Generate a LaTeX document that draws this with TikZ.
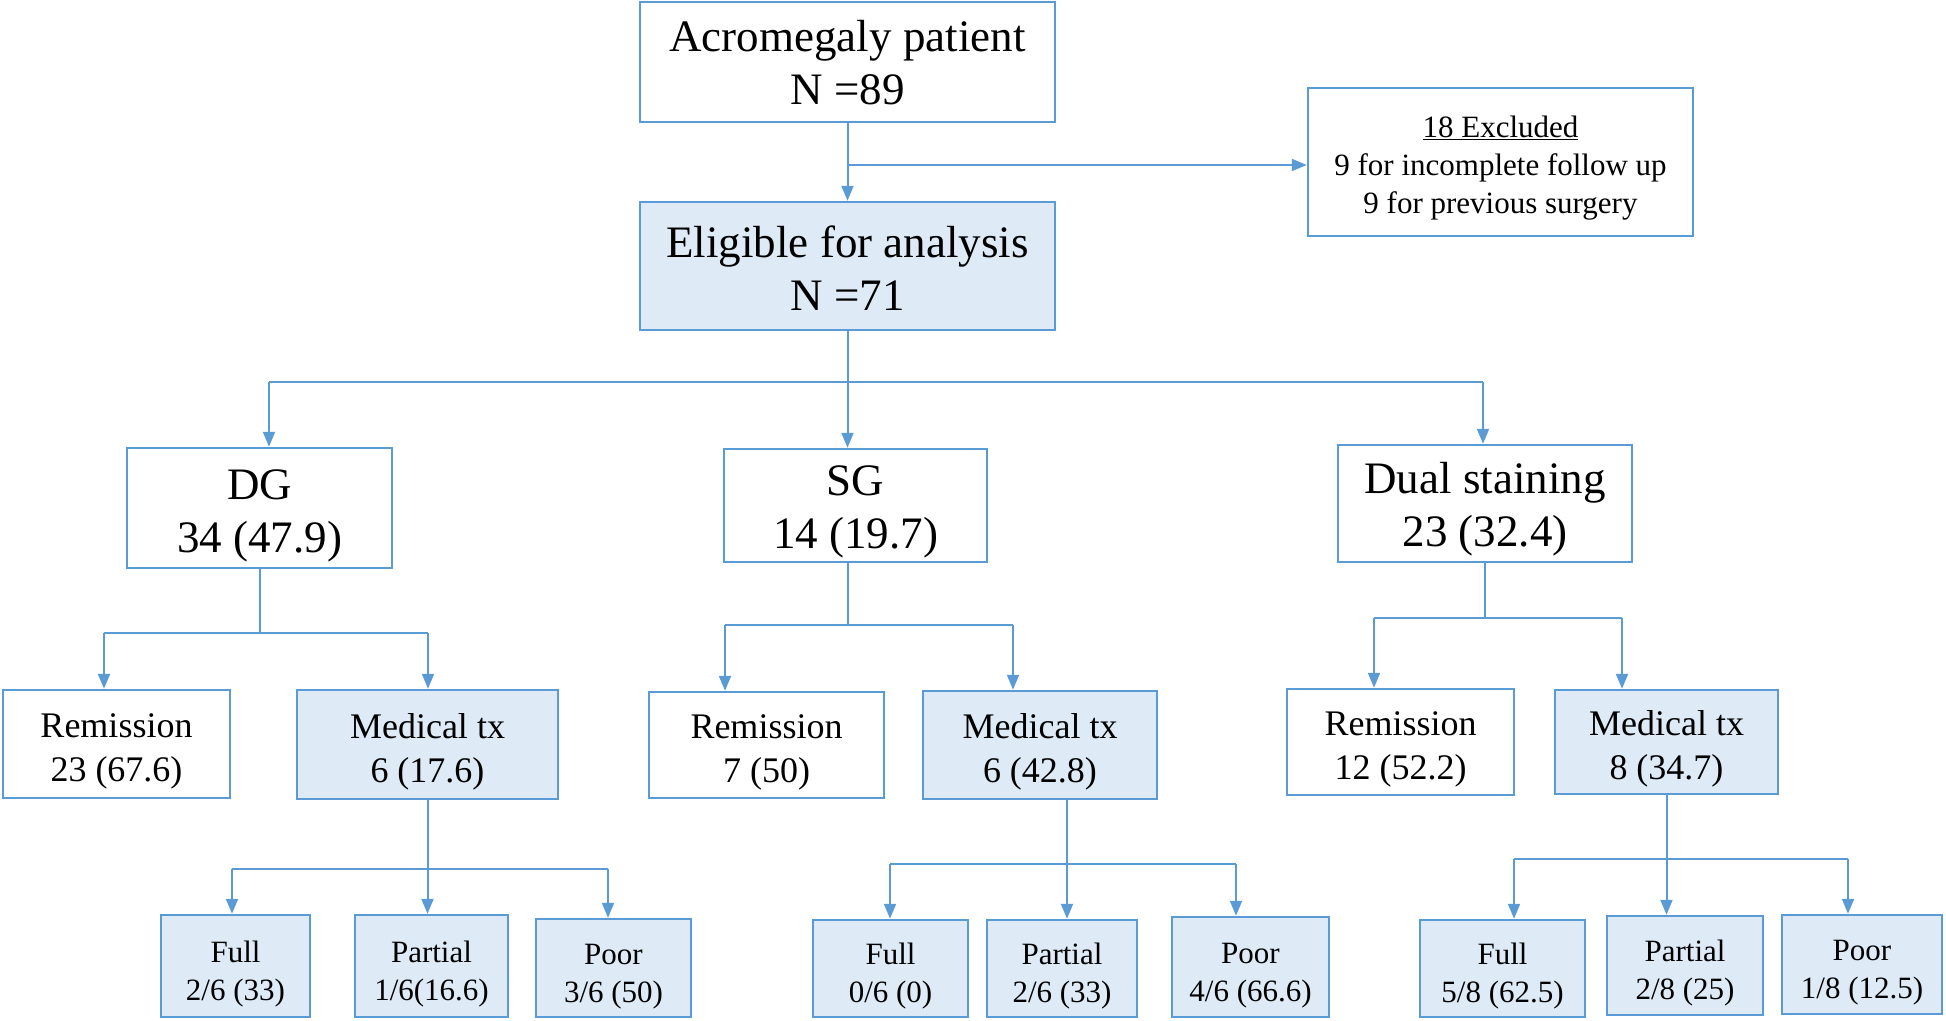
\documentclass[tikz,border=0pt]{standalone}
\usepackage{fontspec}
\setmainfont{Liberation Serif}
\usepackage{xcolor}
\usetikzlibrary{arrows.meta}
\definecolor{flowblue}{HTML}{5B9BD5}
\definecolor{flowfill}{HTML}{DEEBF7}
\newcommand{\boxtext}[2]{\raisebox{-#1}[\height][\depth]{\begin{tabular}{@{}c@{}}#2\end{tabular}}}

\begin{document}
\begin{tikzpicture}[x=1pt,y=-1pt]
\tikzset{box/.style={draw=flowblue,line width=2.5pt,inner sep=0pt}}
\tikzset{shaded/.style={box,fill=flowfill}}
\tikzset{big/.style={font=\fontsize{45}{53}\selectfont}}
\tikzset{mid/.style={font=\fontsize{36}{44}\selectfont}}
\tikzset{small/.style={font=\fontsize{31}{38}\selectfont}}
\tikzset{link/.style={draw=flowblue,line width=2pt}}
\tikzset{arr/.style={link,-{Triangle[length=15pt,width=12pt]}}}

\useasboundingbox (0,0) rectangle (1946,1020);

\node[box,big,minimum width=415pt,minimum height=120pt] (acro) at (847.5,62) {\boxtext{5.5pt}{Acromegaly patient\\N =89}};
\node[box,small,minimum width=385pt,minimum height=148pt] (excl) at (1500.5,162) {\boxtext{6pt}{\underline{18 Excluded}\\9 for incomplete follow up\\9 for previous surgery}};
\node[shaded,big,minimum width=415pt,minimum height=128pt] (elig) at (847.5,266) {\boxtext{7.5pt}{Eligible for analysis\\N =71}};

\node[box,big,minimum width=265pt,minimum height=120pt] (dg) at (259.5,508) {\boxtext{7pt}{DG\\34 (47.9)}};
\node[box,big,minimum width=263pt,minimum height=113pt] (sg) at (855.5,505.5) {\boxtext{6pt}{SG\\14 (19.7)}};
\node[box,big,minimum width=294pt,minimum height=117pt] (dual) at (1485,503.5) {\boxtext{5.5pt}{Dual staining\\23 (32.4)}};

\node[box,mid,minimum width=227pt,minimum height=108pt] (rem1) at (116.5,744) {\boxtext{7pt}{Remission\\23 (67.6)}};
\node[shaded,mid,minimum width=261pt,minimum height=109pt] (med1) at (427.5,744.5) {\boxtext{7pt}{Medical tx\\6 (17.6)}};
\node[box,mid,minimum width=235pt,minimum height=106pt] (rem2) at (766.5,745) {\boxtext{7pt}{Remission\\7 (50)}};
\node[shaded,mid,minimum width=234pt,minimum height=108pt] (med2) at (1040,745) {\boxtext{7pt}{Medical tx\\6 (42.8)}};
\node[box,mid,minimum width=227pt,minimum height=106pt] (rem3) at (1400.5,742) {\boxtext{7pt}{Remission\\12 (52.2)}};
\node[shaded,mid,minimum width=223pt,minimum height=104pt] (med3) at (1666.5,742) {\boxtext{7pt}{Medical tx\\8 (34.7)}};

\node[shaded,small,minimum width=149pt,minimum height=102pt] (full1) at (235.5,966) {\boxtext{7.5pt}{Full\\2/6 (33)}};
\node[shaded,small,minimum width=153pt,minimum height=102pt] (part1) at (431.5,966) {\boxtext{7.5pt}{Partial\\1/6(16.6)}};
\node[shaded,small,minimum width=155pt,minimum height=98pt] (poor1) at (613.5,968) {\boxtext{7.5pt}{Poor\\3/6 (50)}};
\node[shaded,small,minimum width=155pt,minimum height=97pt] (full2) at (890.5,968.5) {\boxtext{7.5pt}{Full\\0/6 (0)}};
\node[shaded,small,minimum width=150pt,minimum height=97pt] (part2) at (1062,968.5) {\boxtext{7.5pt}{Partial\\2/6 (33)}};
\node[shaded,small,minimum width=157pt,minimum height=100pt] (poor2) at (1250.5,967) {\boxtext{7.5pt}{Poor\\4/6 (66.6)}};
\node[shaded,small,minimum width=165pt,minimum height=97pt] (full3) at (1502.5,968.5) {\boxtext{7.5pt}{Full\\5/8 (62.5)}};
\node[shaded,small,minimum width=156pt,minimum height=99pt] (part3) at (1685,965.5) {\boxtext{7.5pt}{Partial\\2/8 (25)}};
\node[shaded,small,minimum width=160pt,minimum height=99pt] (poor3) at (1862,964.5) {\boxtext{7.5pt}{Poor\\1/8 (12.5)}};

\coordinate (ex) at (847.5,165);
\coordinate (b0) at (847.5,382);
\coordinate (b0L) at (269,382);
\coordinate (b0R) at (1483,382);
\coordinate (dgL) at (104,633);
\coordinate (dgR) at (428,633);
\coordinate (sgM) at (848,625);
\coordinate (sgL) at (725,625);
\coordinate (sgR) at (1013,625);
\coordinate (duL) at (1374,618);
\coordinate (duR) at (1622,618);
\coordinate (m1L) at (232,869);
\coordinate (m1R) at (608,869);
\coordinate (m2L) at (890,864);
\coordinate (m2M) at (1067,864);
\coordinate (m2R) at (1236,864);
\coordinate (m3L) at (1514,859);
\coordinate (m3R) at (1848,859);

\draw[arr] (acro.south) -- (elig.north);
\draw[arr] (ex) -- (ex -| excl.west);

\draw[link] (elig.south) -- (b0);
\draw[link] (b0L) -- (b0R);
\draw[arr] (b0L) -- (b0L |- dg.north);
\draw[arr] (b0) -- (b0 |- sg.north);
\draw[arr] (b0R) -- (b0R |- dual.north);

\draw[link] (dg.south) -- (dg.south |- dgL);
\draw[link] (dgL) -- (dgR);
\draw[arr] (dgL) -- (dgL |- rem1.north);
\draw[arr] (dgR) -- (dgR |- med1.north);

\draw[link] (sgM |- sg.south) -- (sgM);
\draw[link] (sgL) -- (sgR);
\draw[arr] (sgL) -- (sgL |- rem2.north);
\draw[arr] (sgR) -- (sgR |- med2.north);

\draw[link] (dual.south) -- (dual.south |- duL);
\draw[link] (duL) -- (duR);
\draw[arr] (duL) -- (duL |- rem3.north);
\draw[arr] (duR) -- (duR |- med3.north);

\draw[link] (med1.south) -- (med1.south |- m1L);
\draw[link] (m1L) -- (m1R);
\draw[arr] (m1L) -- (m1L |- full1.north);
\draw[arr] (med1.south |- m1L) -- (part1.north -| med1.south);
\draw[arr] (m1R) -- (m1R |- poor1.north);

\draw[link] (m2M |- med2.south) -- (m2M);
\draw[link] (m2L) -- (m2R);
\draw[arr] (m2L) -- (m2L |- full2.north);
\draw[arr] (m2M) -- (m2M |- part2.north);
\draw[arr] (m2R) -- (m2R |- poor2.north);

\draw[link] (med3.south) -- (med3.south |- m3L);
\draw[link] (m3L) -- (m3R);
\draw[arr] (m3L) -- (m3L |- full3.north);
\draw[arr] (med3.south |- m3L) -- (part3.north -| med3.south);
\draw[arr] (m3R) -- (m3R |- poor3.north);

\end{tikzpicture}
\end{document}
